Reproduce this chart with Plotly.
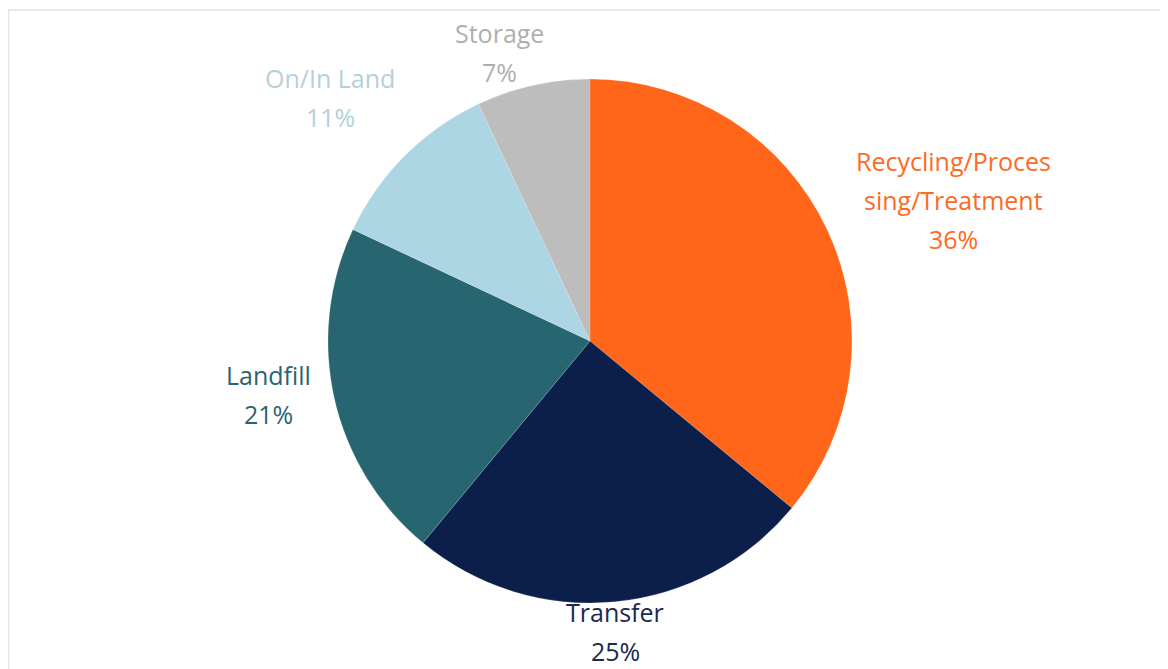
import plotly.graph_objects as go

labels = ["Recycling/Processing/Treatment", "Transfer", "Landfill", "On/In Land", "Storage"]
label_lines = [["Recycling/Proces", "sing/Treatment"], ["Transfer"], ["Landfill"], ["On/In Land"], ["Storage"]]
values = [36, 25, 21, 11, 7]
slice_colors = ["#FF661A", "#0C1F4B", "#276570", "#ADD6E4", "#BDBDBD"]
text_colors = ["#FF6A22", "#1A2A50", "#2A6470", "#B5D0D9", "#AFAFAF"]

W, H = 1168, 669
OFF = 8  # page body margin offset
cx, cy, r = 590 - OFF, 341 - OFF, 262

fig = go.Figure(go.Pie(
    labels=labels, values=values, sort=False, direction="clockwise", rotation=0,
    marker=dict(colors=slice_colors, line=dict(color="rgba(255,255,255,0.3)", width=0.5)),
    textinfo="none", hoverinfo="label+percent", showlegend=False,
    domain=dict(x=[(cx - r) / W, (cx + r) / W], y=[(H - cy - r) / H, (H - cy + r) / H]),
))

# label anchor (pixel centre of first line) per slice
label_pos = [(953, 161), (615, 612), (268, 375), (330, 78), (499, 33)]
line_gap = 39
total = sum(values)
annotations = []
for lines, v, col, (x, y) in zip(label_lines, values, text_colors, label_pos):
    all_lines = lines + [f"{round(100 * v / total)}%"]
    for i, t in enumerate(all_lines):
        annotations.append(dict(
            text=t, x=(x - OFF) / W, y=1 - (y - OFF + i * line_gap) / H, xref="paper", yref="paper",
            showarrow=False, xanchor="center", yanchor="middle",
            font=dict(family="Open Sans, Roboto, Arial, sans-serif", size=25, color=col),
        ))

fig.update_layout(
    width=W, height=H, margin=dict(l=0, r=0, t=0, b=0),
    paper_bgcolor="white", plot_bgcolor="white",
    annotations=annotations,
    shapes=[dict(type="rect", xref="paper", yref="paper",
                 x0=0.5 / W, x1=1.01, y0=-0.01, y1=1 - 2 / H,
                 line=dict(color="#E4E4E4", width=1.5), fillcolor="rgba(0,0,0,0)", layer="below")],
)

fig.write_html("out.html")
